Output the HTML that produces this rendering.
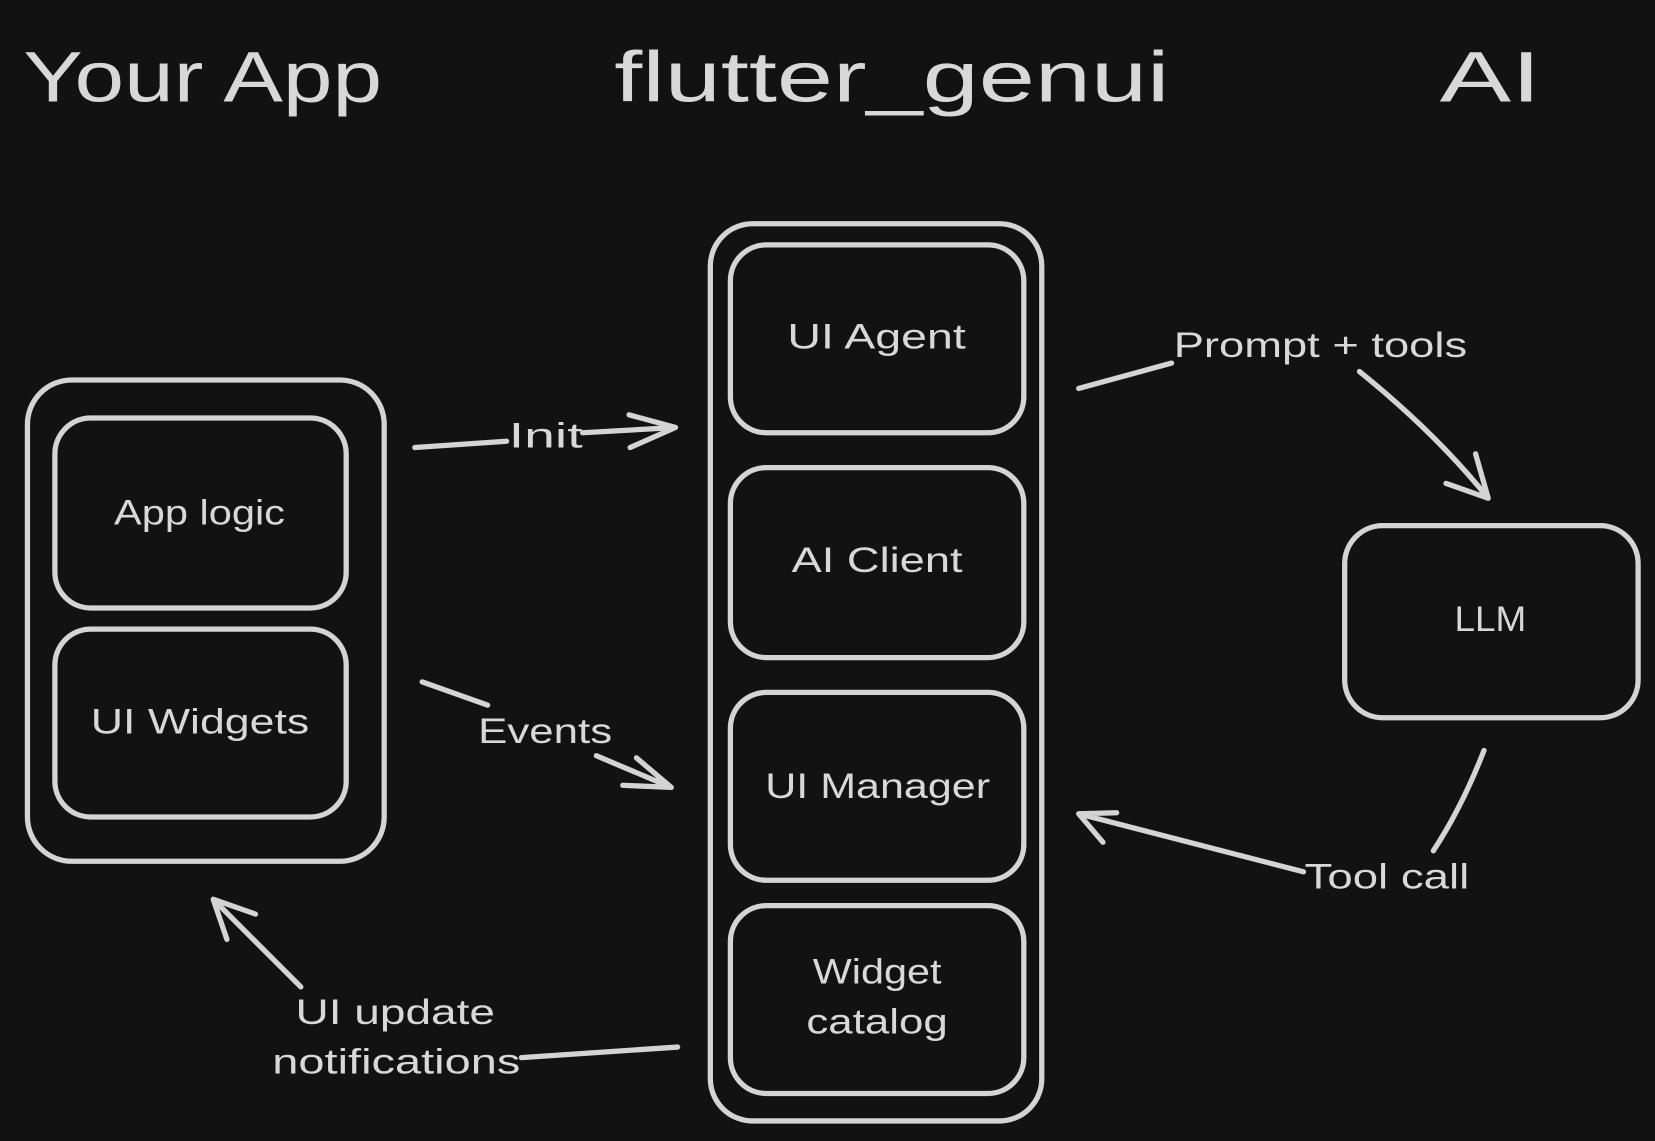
<!DOCTYPE html>
<html><head><meta charset="utf-8"><style>
html,body{margin:0;padding:0;background:#121212;}
svg{display:block}
text{font-family:"Liberation Sans","DejaVu Sans",sans-serif;fill:#d8d8d8;}
</style></head><body>
<svg width="1655" height="1141" viewBox="0 0 1568 1081" preserveAspectRatio="none" xmlns="http://www.w3.org/2000/svg">
<rect width="1568" height="1081" fill="#121212"/>
<g fill="none" stroke="#d4d4d4" stroke-width="5" stroke-linecap="round" stroke-linejoin="round">
<rect x="26" y="360" width="338" height="456" rx="42"/>
<rect x="52" y="396" width="276" height="180" rx="34"/>
<rect x="52" y="596" width="276" height="178" rx="34"/>
<rect x="673" y="212" width="314" height="850" rx="40"/>
<rect x="692" y="232" width="278" height="178" rx="34"/>
<rect x="692" y="443" width="278" height="180" rx="34"/>
<rect x="692" y="656" width="278" height="178" rx="34"/>
<rect x="692" y="858" width="278" height="178" rx="34"/>
<rect x="1274" y="498" width="278" height="182" rx="36"/>
<path d="M393 424 L480 418 M552 410 L640 405 M596 393 L640 405 L597 424"/>
<path d="M400 646 L462 668 M565 716 L636 746 M590 744 L636 746 L603 718"/>
<path d="M1022 368 L1110 344 M1288 352 Q1360 410 1410 472 M1370 458 L1410 472 L1398 430"/>
<path d="M1406 711 Q1385 765 1358 806 M1235 826 L1022 771 M1045 798 L1022 771 L1058 770"/>
<path d="M642 992 L494 1002 M285 935 L202 852 M242 866 L202 852 L215 890"/>
</g>
<g font-size="68">
<text x="22" y="96" textLength="340" lengthAdjust="spacingAndGlyphs">Your App</text>
<text x="582" y="96" textLength="526" lengthAdjust="spacingAndGlyphs">flutter_genui</text>
<text x="1364" y="96" textLength="96" lengthAdjust="spacingAndGlyphs">AI</text>
</g>
<g font-size="33">
<text x="108" y="497" textLength="162" lengthAdjust="spacingAndGlyphs">App logic</text>
<text x="86" y="695" textLength="207" lengthAdjust="spacingAndGlyphs">UI Widgets</text>
<text x="746" y="330" textLength="169" lengthAdjust="spacingAndGlyphs">UI Agent</text>
<text x="750" y="542" textLength="162" lengthAdjust="spacingAndGlyphs">AI Client</text>
<text x="725" y="756" textLength="213" lengthAdjust="spacingAndGlyphs">UI Manager</text>
<text x="770" y="932" textLength="122" lengthAdjust="spacingAndGlyphs">Widget</text>
<text x="764" y="979" textLength="134" lengthAdjust="spacingAndGlyphs">catalog</text>
<text x="1378" y="598" textLength="68" lengthAdjust="spacingAndGlyphs">LLM</text>
<text x="482" y="424" textLength="70" lengthAdjust="spacingAndGlyphs">Init</text>
<text x="453" y="704" textLength="127" lengthAdjust="spacingAndGlyphs">Events</text>
<text x="1112" y="338" textLength="278" lengthAdjust="spacingAndGlyphs">Prompt + tools</text>
<text x="1236" y="842" textLength="156" lengthAdjust="spacingAndGlyphs">Tool call</text>
<text x="280" y="970" textLength="189" lengthAdjust="spacingAndGlyphs">UI update</text>
<text x="258" y="1017" textLength="235" lengthAdjust="spacingAndGlyphs">notifications</text>
</g>
</svg>
</body></html>
